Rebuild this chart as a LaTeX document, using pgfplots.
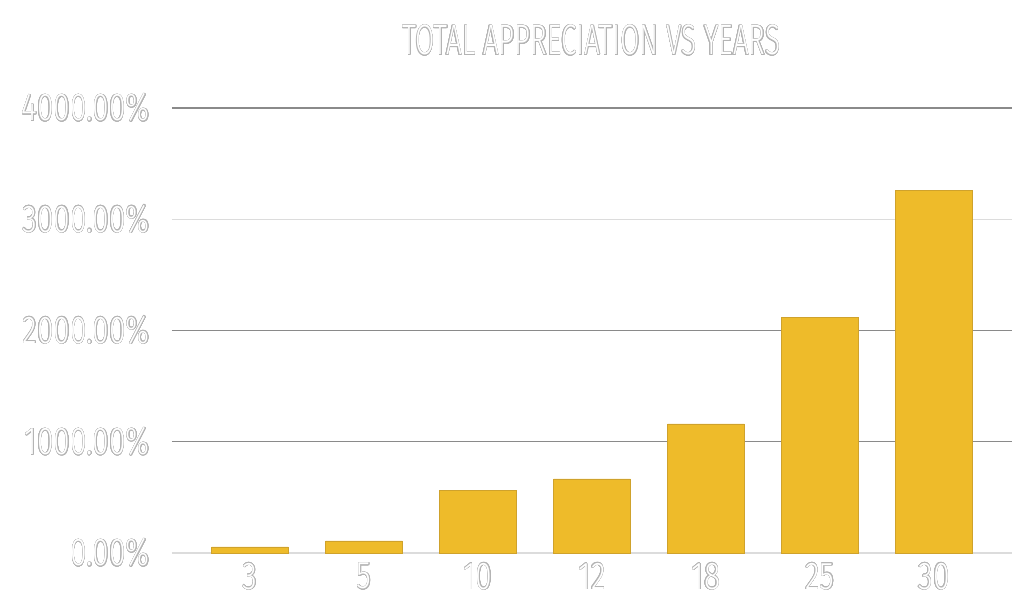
\documentclass[border=0pt]{standalone}
\usepackage{fontspec}
\setmainfont{Liberation Sans}
\newfontfamily\titlefont[FakeStretch=0.655,UprightFont={* Light}]{Fira Sans}
\newfontfamily\tickfont[FakeStretch=0.78,UprightFont={* Light}]{Fira Sans}
\usepackage{xcolor}
\usepackage[copies]{contour}
\usepackage{pgfplots}
\pgfplotsset{compat=1.18}
\definecolor{olgray}{HTML}{B4B4B4}
\definecolor{barfill}{HTML}{EEBB2A}
\definecolor{baredge}{HTML}{CFA22C}
\definecolor{darkgrid}{HTML}{8A8A8A}
\definecolor{lightgrid}{HTML}{DCDCDC}
\contourlength{0.35pt}
\contournumber{24}
\newcommand\ol[1]{\contour{olgray}{\textcolor{white}{#1}}}
\begin{document}
\begin{tikzpicture}
\useasboundingbox (-129pt,-45pt) rectangle (639pt,414.75pt);
\begin{axis}[
  at={(0,0)}, anchor=south west,
  scale only axis, width=630pt, height=333.75pt,
  xmin=-0.684, xmax=6.684, ymin=0, ymax=4000,
  axis line style={draw=none},
  major tick length=0pt,
  xtick={0,1,2,3,4,5,6},
  xticklabels={\ol{3},\ol{5},\ol{10},\ol{12},\ol{18},\ol{25},\ol{30}},
  ytick={0,3000},
  yticklabels={\ol{0.00\%},\ol{3000.00\%}},
  extra y ticks={1000,2000,4000},
  extra y tick labels={\ol{1000.00\%},\ol{2000.00\%},\ol{4000.00\%}},
  extra y tick style={major grid style={draw=darkgrid,line width=0.9pt}},
  ymajorgrids,
  major grid style={draw=lightgrid,line width=0.9pt},
  ticklabel style={font=\tickfont\fontsize{29}{30}\selectfont, inner sep=0pt},
  yticklabel style={anchor=east, xshift=-16.5pt},
  xticklabel style={anchor=north, yshift=-7.5pt},
  clip=false,
]
\addplot[ybar, bar width=0.675, fill=barfill, draw=baredge, line width=0.5pt]
  coordinates {(0,55) (1,108) (2,561) (3,666) (4,1161) (5,2121) (6,3260)};
\end{axis}
\node[anchor=base] at (314.6pt,373.5pt) {\titlefont\fontsize{32}{34}\selectfont\ol{TOTAL APPRECIATION VS YEARS}};
\end{tikzpicture}
\end{document}
